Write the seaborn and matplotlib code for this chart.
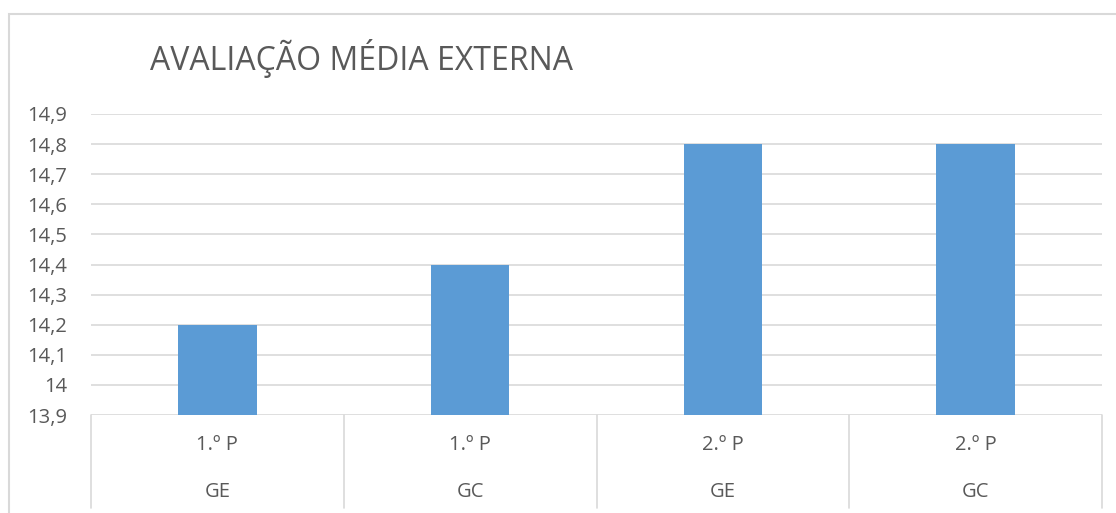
import pandas as pd
import seaborn as sns
import matplotlib.pyplot as plt
from matplotlib.patches import Rectangle
from matplotlib.ticker import FuncFormatter, MultipleLocator
import matplotlib.transforms as mtransforms

# data
periods = ["1.º P", "1.º P", "2.º P", "2.º P"]
groups = ["GE", "GC", "GE", "GC"]
values = [14.2, 14.4, 14.8, 14.8]
title = "AVALIAÇÃO MÉDIA EXTERNA"

BAR = "#5B9BD5"
GRID = "#D9D9D9"
TXT = "#595959"

df = pd.DataFrame({"periodo": periods, "grupo": groups, "valor": values})
df["cat"] = df["periodo"] + "|" + df["grupo"]

sns.set_style("white")
plt.rcParams["font.family"] = ["Open Sans", "DejaVu Sans"]

W, H = 1116, 513
fig = plt.figure(figsize=(W / 100, H / 100), dpi=100)

# plot area in pixels
left, right, top, bottom = 91, 1102, 114, 415
ax = fig.add_axes([left / W, 1 - bottom / H, (right - left) / W, (bottom - top) / H])

sns.barplot(data=df, x="cat", y="valor", color=BAR, width=0.31,
            saturation=1, linewidth=0, edgecolor="none", ax=ax, zorder=3)

ax.set_ylim(13.9, 14.9)
ax.yaxis.set_major_locator(MultipleLocator(0.1))
ax.yaxis.set_major_formatter(FuncFormatter(
    lambda v, p: ("%g" % round(v, 1)).replace(".", ",")))
ax.grid(axis="y", color=GRID, linewidth=1.2, zorder=0)
ax.set_axisbelow(True)
for s in ax.spines.values():
    s.set_visible(False)
ax.tick_params(axis="y", length=0, pad=17, labelsize=14.5, labelcolor=TXT)
ax.set_xlabel("")
ax.set_ylabel("")
ax.set_xlim(-0.5, 3.5)

# two-level category axis
ax.set_xticks(range(len(values)))
ax.set_xticklabels([])
ax.tick_params(axis="x", length=0)
trans = mtransforms.blended_transform_factory(ax.transData, ax.transAxes)
h = (bottom - top)
y1 = -(445 - bottom) / h
y2 = -(492 - bottom) / h
yb = -(508 - bottom) / h
for i, (p, g) in enumerate(zip(periods, groups)):
    ax.text(i, y1, p, transform=trans, ha="center", va="center",
            fontsize=14.5, color=TXT)
    ax.text(i, y2, g, transform=trans, ha="center", va="center",
            fontsize=14.5, color=TXT)
for xs in [-0.5, 0.5, 1.5, 2.5, 3.5]:
    ax.plot([xs, xs], [0, yb], transform=trans, color=GRID,
            linewidth=1.2, clip_on=False)

# title
fig.text(150 / W, 1 - 70 / H, title, ha="left", va="baseline",
         fontsize=23, color=TXT)

# chart border (right and bottom edges fall outside the image)
fig.patches.append(Rectangle((9 / W, -0.1), 2, (1 - 14 / H) + 0.1,
                             transform=fig.transFigure, fill=False,
                             edgecolor=GRID, linewidth=1.5))

fig.savefig("out.png", dpi=100)
